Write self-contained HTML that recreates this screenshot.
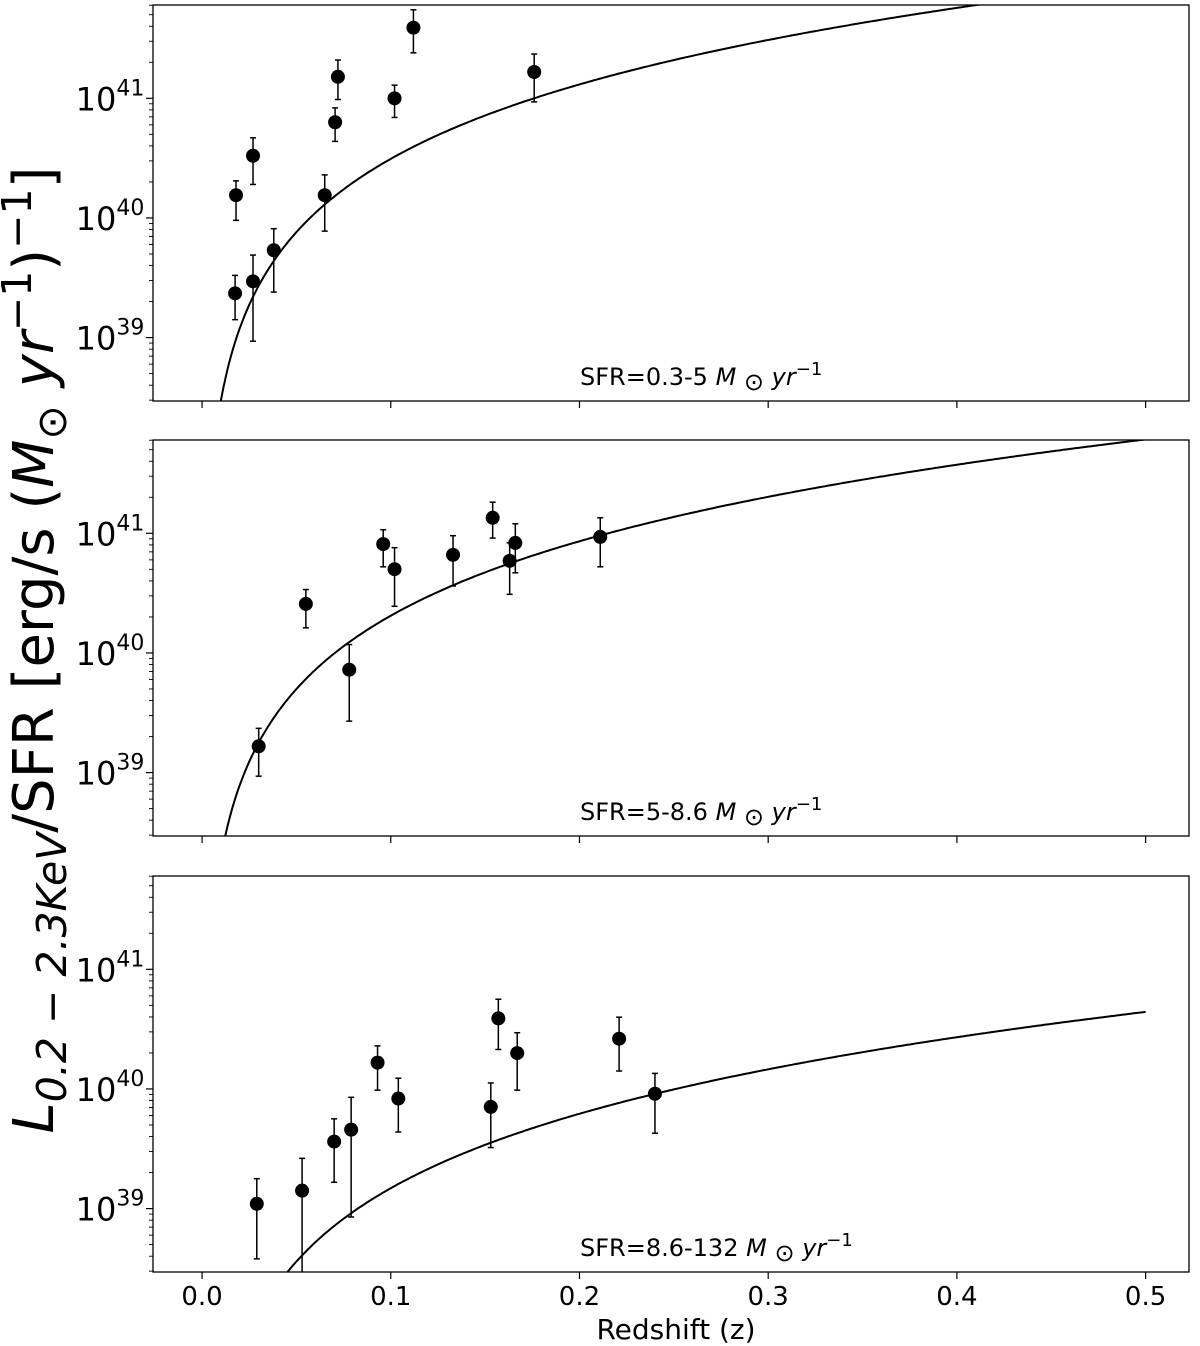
<!DOCTYPE html>
<html><head><meta charset="utf-8"><style>
html,body{margin:0;background:#fff;overflow:hidden;width:1200px;height:1346px}
svg{display:block;font-family:"DejaVu Sans","Liberation Sans",sans-serif}
</style></head><body>
<svg id="chart" width="1200" height="1346" viewBox="0 0 1200 1346" xmlns="http://www.w3.org/2000/svg">
<text transform="translate(53,650) rotate(-90)" text-anchor="middle" font-size="56"><tspan font-style="italic">L</tspan><tspan font-size="41" dy="13" font-style="italic">0.2 − 2.3KeV</tspan><tspan dy="-13">/SFR [erg/s (</tspan><tspan font-style="italic">M</tspan><tspan font-size="41" dy="13">⊙</tspan><tspan dy="-13" font-style="italic"> yr</tspan><tspan font-size="41" dy="-22">−1</tspan><tspan dy="22">)</tspan><tspan font-size="41" dy="-22">−1</tspan><tspan dy="22">]</tspan></text>
<text x="676" y="1339" text-anchor="middle" font-size="28">Redshift (z)</text>
<g id="panels"></g>
</svg>
<script>
const NS="http://www.w3.org/2000/svg";
// Panel 1 data
const z1=[0.0175,0.018,0.027,0.027,0.038,0.065,0.0705,0.072,0.102,0.112,0.176];
const l1=[39.37,40.19,40.52,39.47,39.73,40.19,40.80,41.18,41.0,41.59,41.22];
const h1=[39.52,40.31,40.67,39.69,39.91,40.36,40.92,41.32,41.11,41.74,41.37];
const d1=[39.15,39.98,40.28,38.97,39.38,39.89,40.64,40.99,40.84,41.38,40.97];
// Panel 2 data
const z2=[0.030,0.055,0.078,0.096,0.102,0.133,0.154,0.163,0.166,0.211];
const l2=[39.22,40.41,39.86,40.91,40.70,40.82,41.13,40.77,40.92,40.97];
const h2=[39.37,40.53,40.07,41.03,40.88,40.98,41.26,40.92,41.08,41.13];
const d2=[38.97,40.21,39.43,40.72,40.39,40.56,40.96,40.49,40.67,40.72];
// Panel 3 data
const z3=[0.029,0.053,0.070,0.079,0.093,0.104,0.153,0.157,0.167,0.221,0.240];
const l3=[39.04,39.15,39.56,39.66,40.22,39.92,39.85,40.59,40.30,40.42,39.96];
const h3=[39.25,39.42,39.75,39.93,40.36,40.09,40.05,40.75,40.47,40.60,40.13];
const d3=[38.58,38.30,39.22,38.93,39.99,39.64,39.51,40.33,39.99,40.15,39.63];
// curve normalisations L = K z^2 (1+0.5z)
const curveK=[2.97e42,1.95e42,1.41e41];
const curveZmax=[0.5,0.5,0.5];
const labels=["0.3-5","5-8.6","8.6-132"];
const xTicks=[0,0.1,0.2,0.3,0.4,0.5];
const yTicks=[39,40,41];

const X0=153,X1=1189,ZMIN=-0.026,ZMAX=0.523;
const YMIN=38.47,YMAX=41.78;
const tops=[5,440,876],H=396;
const xs=z=>X0+(z-ZMIN)/(ZMAX-ZMIN)*(X1-X0);
function mk(t,a,p){const e=document.createElementNS(NS,t);for(const k in a)e.setAttribute(k,a[k]);(p||document.getElementById('panels')).appendChild(e);return e;}
const sets=[[z1,l1,h1,d1],[z2,l2,h2,d2],[z3,l3,h3,d3]];
sets.forEach((s,i)=>{
  const top=tops[i],bot=top+H;
  const ys=v=>bot-(v-YMIN)/(YMAX-YMIN)*H;
  const g=mk('g',{});
  
  
  const cid='clip'+i;
  const cp=mk('clipPath',{id:cid},g);mk('rect',{x:X0,y:top,width:X1-X0,height:H},cp);
  xTicks.forEach(t=>{
    const tk=mk('line',{x1:xs(t),x2:xs(t),y1:bot,y2:bot+7,stroke:'#000','stroke-width':1.2},g);
    
    
    if(i===2){const tl=mk('text',{x:xs(t),y:bot+33,'text-anchor':'middle','font-size':26},g);tl.textContent=t.toFixed(1);
      
      }
  });
  for(let e=38;e<=41;e++){for(let m=1;m<10;m++){const v=e+Math.log10(m);if(v<YMIN||v>YMAX)continue;
    const y=ys(v);mk('line',{x1:X0,x2:X0-(m===1?7:4),y1:y,y2:y,stroke:'#000','stroke-width':m===1?1.2:0.9},g);}}
  yTicks.forEach(t=>{const tl=mk('text',{x:110,y:ys(t)+12,'text-anchor':'middle','font-size':32},g);
    
    
    tl.innerHTML='10<tspan font-size="22" dy="-15">'+t+'</tspan>';});
  let pts=[];
  for(let k=1;k<=400;k++){const z=curveZmax[i]*k/400;const L=Math.log10(curveK[i]*z*z*(1+0.5*z));pts.push(xs(z).toFixed(1)+','+ys(L).toFixed(1));}
  const cv=mk('polyline',{points:pts.join(' '),fill:'none',stroke:'#000','stroke-width':2,'clip-path':'url(#'+cid+')'},g);
  
  
  s[0].forEach((z,j)=>{
    const x=xs(z),yh=ys(s[2][j]),yl=ys(s[3][j]);
    const eb=mk('g',{'clip-path':'url(#'+cid+')'},g);
    
    
    mk('line',{x1:x,x2:x,y1:yh,y2:yl,stroke:'#000','stroke-width':1.5},eb);
    mk('line',{x1:x-3,x2:x+3,y1:yh,y2:yh,stroke:'#000','stroke-width':1.5},eb);
    mk('line',{x1:x-3,x2:x+3,y1:yl,y2:yl,stroke:'#000','stroke-width':1.5},eb);
    const c=mk('circle',{cx:x,cy:ys(s[1][j]),r:7,fill:'#000'},g);
    
    
  });
  const fr=mk('rect',{x:X0,y:top,width:X1-X0,height:H,fill:'none',stroke:'#000','stroke-width':1.3},g);
  
  
  const an=mk('text',{x:580,y:bot-16,'font-size':24},g);
  
  
  an.innerHTML='SFR='+labels[i]+' <tspan font-style="italic">M</tspan><tspan font-size="24" dy="5"> ⊙</tspan><tspan dy="-5" font-style="italic">  yr</tspan><tspan font-size="18" dy="-10">−1</tspan>';
});
</script>
</body></html>
